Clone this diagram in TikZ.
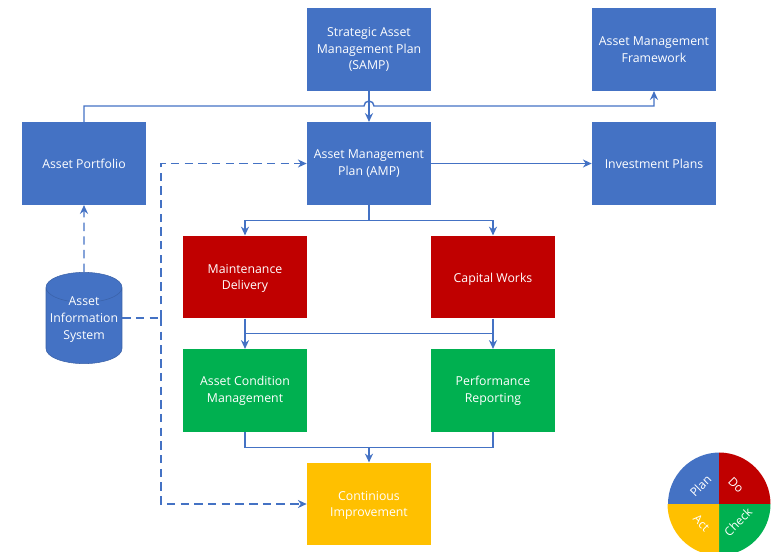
\documentclass[tikz,border=0pt]{standalone}
\usepackage{fontspec}
\setmainfont{Open Sans}
\usetikzlibrary{shapes.geometric, arrows.meta}
\definecolor{assetBlue}{RGB}{68, 114, 196}
\definecolor{assetRed}{RGB}{192, 0, 0}
\definecolor{assetGreen}{RGB}{0, 176, 80}
\definecolor{assetYellow}{RGB}{255, 192, 0}
\begin{document}
\begin{tikzpicture}[x=0.02cm, y=-0.02cm]
    % Styles
    \tikzstyle{caption} = [text=white, inner sep=0pt, align=center, font=\fontsize{7}{9.6}\selectfont]
    \tikzstyle{box} = [rectangle, caption, minimum width=2.48cm, minimum height=1.65cm]
    \tikzstyle{plan} = [box, fill=assetBlue]
    \tikzstyle{doing} = [box, fill=assetRed]
    \tikzstyle{checking} = [box, fill=assetGreen]
    \tikzstyle{acting} = [box, fill=assetYellow]
    \tikzstyle{store} = [cylinder, shape border rotate=90, aspect=0.5, draw=assetBlue!85!black, line width=0.3pt, fill=assetBlue, minimum width=1.52cm, minimum height=1.4cm, text width=1.2cm, text height=0.46cm, text depth=0.46cm, inner sep=0pt]
    \tikzstyle{arrow} = [-{Stealth[length=5pt, width=4.6pt]}, line width=0.8pt, assetBlue]
    \tikzstyle{line} = [line width=0.8pt, assetBlue]
    \tikzstyle{dasharrow} = [arrow, dash pattern=on 4.8pt off 3pt]
    \tikzstyle{dashline} = [line, dash pattern=on 4.8pt off 3pt]
    \tikzstyle{wedgetext} = [text=white, inner sep=0pt, font=\fontsize{6.8}{8}\selectfont]

    \useasboundingbox (0,0) rectangle (774,551);

    % Nodes - explicit coordinates
    \node[plan] (samp) at (369,49.5) {Strategic Asset\\Management Plan\\(SAMP)};
    \node[plan] (framework) at (654,49.5) {Asset Management\\Framework};
    \node[plan] (portfolio) at (84,163.5) {Asset Portfolio};
    \node[plan] (amp) at (369,163.5) {Asset Management\\Plan (AMP)};
    \node[plan] (investment) at (654,163.5) {Investment Plans};

    \node[doing, text height=16.4pt] (maintenance) at (245,277) {Maintenance\\Delivery};
    \node[doing, text height=7.6pt] (capital) at (493,277) {Capital Works};
    \node[checking] (condition) at (245,390.5) {Asset Condition\\Management};
    \node[checking] (performance) at (493,390.5) {Performance\\Reporting};
    \node[acting, text height=16.4pt] (improvement) at (369,504) {Continious\\Improvement};

    \node[store, anchor=shape center] (system) at (84,318) {};
    \node[caption, text height=25.8pt] (systemtext) at (system.shape center) {Asset\\Information\\System};

    % Junctions
    \coordinate (jumpstart) at (364,106);
    \coordinate (ampsplit) at (369,220.5);
    \coordinate (worksjoin) at (245,333.5);
    \coordinate (reviewjoin) at (369,447.5);
    \coordinate (dashjoin) at (161,318);
    \coordinate (dashtop) at (161,163.5);
    \coordinate (dashbottom) at (161,504);

    % Arrows
    \draw[arrow] (samp) -- (amp);
    \draw[arrow] (portfolio.north) |- (jumpstart) arc[start angle=180, end angle=0, radius=0.1cm] -| (framework.south);
    \draw[arrow] (amp) -- (investment);
    \draw[line] (amp) -- (ampsplit);
    \draw[arrow] (ampsplit) -| (maintenance.north);
    \draw[arrow] (ampsplit) -| (capital.north);
    \draw[arrow] (maintenance) -- (condition);
    \draw[arrow] (capital) -- (performance);
    \draw[line] (worksjoin) -- (worksjoin -| capital);
    \draw[line] (condition.south) |- (reviewjoin);
    \draw[line] (performance.south) |- (reviewjoin);
    \draw[arrow] (reviewjoin) -- (improvement);

    % Dashed links
    \draw[dasharrow] (system) -- (portfolio);
    \draw[dashline] (system.east |- dashjoin) -- (dashjoin);
    \draw[dasharrow] (dashjoin) -- (dashtop) -- (amp.west);
    \draw[dasharrow] (dashjoin) -- (dashbottom) -- (improvement.west);

    % Legend
    \begin{scope}
        \clip (0,0) rectangle (774,551);
        \fill[assetBlue] (719,504) -- (668,504) arc[start angle=180, end angle=90, radius=1.03cm] -- cycle;
        \fill[assetRed] (719,504) -- (719,452.5) arc[start angle=90, end angle=0, radius=1.03cm] -- cycle;
        \fill[assetGreen] (719,504) -- (770.5,504) arc[start angle=0, end angle=-90, radius=1.03cm] -- cycle;
        \fill[assetYellow] (719,504) -- (719,555.5) arc[start angle=-90, end angle=-180, radius=1.03cm] -- cycle;
        \node[wedgetext, rotate=45] (plantext) at (700.5,486) {Plan};
        \node[wedgetext, rotate=-45] (dotext) at (736,485) {Do};
        \node[wedgetext, rotate=45] (checktext) at (738,522) {Check};
        \node[wedgetext, rotate=-45] (acttext) at (701.5,523) {Act};
    \end{scope}
\end{tikzpicture}
\end{document}
